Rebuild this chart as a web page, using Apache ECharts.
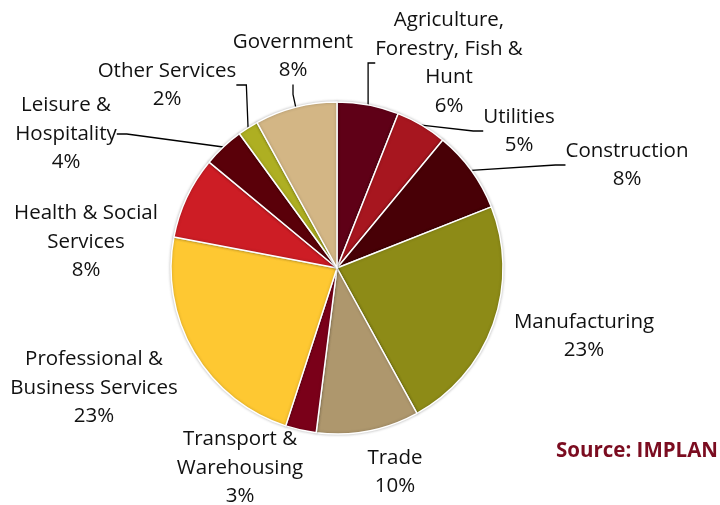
<!DOCTYPE html>
<html><head><meta charset="utf-8">
<script src="https://cdn.jsdelivr.net/npm/echarts@6/dist/echarts.min.js"></script>
<style>html,body{margin:0;padding:0;background:#fff}#c{width:720px;height:505px}</style>
</head><body><div id="c"></div>
<script>
const categories = ["Agriculture,\nForestry, Fish &\nHunt", "Utilities", "Construction", "Manufacturing", "Trade", "Transport &\nWarehousing", "Professional &\nBusiness Services", "Health & Social\nServices", "Leisure &\nHospitality", "Other Services", "Government"];
const values = [6, 5, 8, 23, 10, 3, 23, 8, 4, 2, 8];
const colors = ["#5F0017", "#A7161F", "#480006", "#8D8B17", "#AE976D", "#7A0019", "#FEC832", "#CD1D25", "#5A0009", "#AEAF22", "#D3B685"];
const showLines = [true, true, true, false, false, false, false, false, true, true, true];
const labelPos = [[449, 63], [519, 131], [627, 165], [584, 336], [395, 472], [240, 468], [94, 388], [86, 242], [66, 134], [167, 85], [293, 56]];

const chart = echarts.init(document.getElementById('c'), null, {renderer: 'canvas'});
chart.setOption({
  animation: false,
  backgroundColor: '#fff',
  graphic: [{
    type: 'text', right: 2, top: 441,
    style: {text: 'Source: IMPLAN', font: 'bold 20.5px "Open Sans"', fill: '#7B0C20'}
  }],
  series: [{
    type: 'pie',
    center: [337, 268],
    radius: 166,
    startAngle: 90,
    clockwise: true,
    itemStyle: {borderColor: '#fff', borderWidth: 1.5, shadowBlur: 3, shadowColor: 'rgba(0,0,0,0.25)'},
    label: {
      show: true,
      overflow: 'none',
      edgeDistance: 0,
      formatter: (p) => p.name + '\n' + p.value + '%',
      fontFamily: 'Open Sans', fontSize: 20.5, color: '#111', lineHeight: 28.5, align: 'center'
    },
    labelLine: {show: true, length: 15, length2: 10, lineStyle: {color: '#000', width: 1.3}},
    labelLayout: (p) => ({x: labelPos[p.dataIndex][0], y: labelPos[p.dataIndex][1], align: 'center', verticalAlign: 'middle'}),
    data: categories.map((c, i) => ({
      name: c, value: values[i],
      itemStyle: {color: colors[i]},
      labelLine: {show: showLines[i]}
    }))
  }]
});
</script></body></html>
